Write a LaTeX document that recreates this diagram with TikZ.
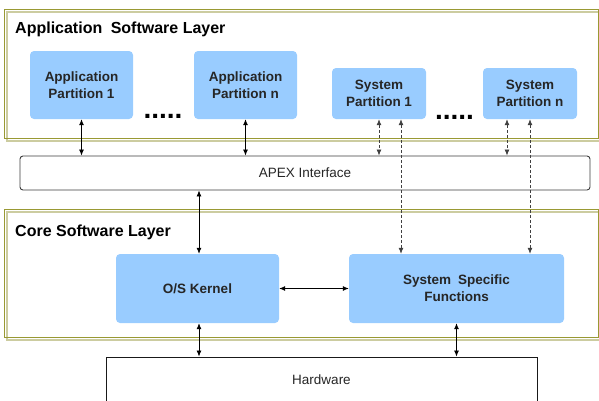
\documentclass[tikz,border=0pt]{standalone}
\usepackage{fontspec}
\setmainfont{Liberation Sans}
\usetikzlibrary{arrows.meta,calc}
\definecolor{boxblue}{RGB}{153,204,255}
\definecolor{olivedark}{RGB}{153,153,51}
\definecolor{olivelight}{RGB}{204,204,160}
\definecolor{edgegrey}{RGB}{60,60,60}
\tikzset{
  part/.style={fill=boxblue, draw=none, rounded corners=4pt, align=center,
    font=\fontsize{13.5}{17}\selectfont\bfseries, text=black!85, inner sep=0pt},
  plainbox/.style={draw=edgegrey, line width=0.9pt, fill=white, font=\fontsize{13.5}{17}\selectfont, text=black!85, inner sep=0pt},
  frameouter/.style={draw=olivedark, line width=1pt},
  frameinner/.style={draw=olivelight, line width=1.6pt},
  layertitle/.style={anchor=base west, font=\fontsize{16}{19}\selectfont\bfseries, inner sep=0pt},
  dotsstyle/.style={anchor=base, font=\fontsize{28}{30}\selectfont\bfseries, inner sep=0pt},
  dbl/.style={{Latex[length=6pt,width=5pt]}-{Latex[length=6pt,width=5pt]}, line width=0.8pt, black},
  dbldash/.style={dbl, dash pattern=on 3pt off 2pt, draw=black!75},
}
\begin{document}
\begin{tikzpicture}[x=1pt,y=-1pt]
\useasboundingbox (0,0) rectangle (599,400);
% layer frames
\draw[frameinner] (7,12) rectangle (601,141);
\draw[frameouter] (4,9) rectangle (598,138);
\draw[frameinner] (7,212) rectangle (601,340);
\draw[frameouter] (4,209) rectangle (598,337);
\node[layertitle] (t1) at (15,33) {Application\hspace{4pt} Software Layer};
\node[layertitle] (t2) at (15,236) {Core Software Layer};
% partitions
\node[part, minimum width=103pt, minimum height=68pt] (ap1) at (81.5,85) {Application\\Partition 1};
\node[part, minimum width=103pt, minimum height=68pt] (apn) at (245.5,85) {Application\\Partition n};
\node[part, minimum width=94pt, minimum height=51pt] (sp1) at (379,93.5) {System\\Partition 1};
\node[part, minimum width=94pt, minimum height=51pt] (spn) at (530,93.5) {System\\Partition n};
\node[dotsstyle] (d1) at (163,118.5) {.....};
\node[dotsstyle] (d2) at (454.5,119) {.....};
% interface
\node[plainbox, rounded corners=3pt, minimum width=570pt, minimum height=34pt] (apex) at (305,173) {APEX Interface};
% core
\node[part, minimum width=163pt, minimum height=69pt] (kernel) at (197.5,288.5) {O/S Kernel};
\node[part, minimum width=215pt, minimum height=69pt] (ssf) at (456.5,288.5) {System\hspace{3pt} Specific\\Functions};
\node[plainbox, draw=black!90, minimum width=431pt, minimum height=46pt] (hw) at (321.5,380) {Hardware};
% connectors
\draw[dbl] (ap1.south) -- (ap1.south |- apex.north);
\draw[dbl] (apn.south) -- (apn.south |- apex.north);
\draw[dbldash] (sp1.south) -- (sp1.south |- apex.north);
\draw[dbldash] ($(sp1.south)+(22,0)$) -- ($(sp1.south |- ssf.north)+(22,0)$);
\draw[dbldash] ($(spn.south)+(-23,0)$) -- ($(spn.south |- apex.north)+(-23,0)$);
\draw[dbldash] (spn.south) -- (spn.south |- ssf.north);
\draw[dbl] ($(kernel.north |- apex.south)+(1.5,0)$) -- ($(kernel.north)+(1.5,0)$);
\draw[dbl] (kernel.east) -- (ssf.west);
\draw[dbl] ($(kernel.south)+(1.5,0)$) -- ($(kernel.south |- hw.north)+(1.5,0)$);
\draw[dbl] (ssf.south) -- (ssf.south |- hw.north);
\end{tikzpicture}
\end{document}
